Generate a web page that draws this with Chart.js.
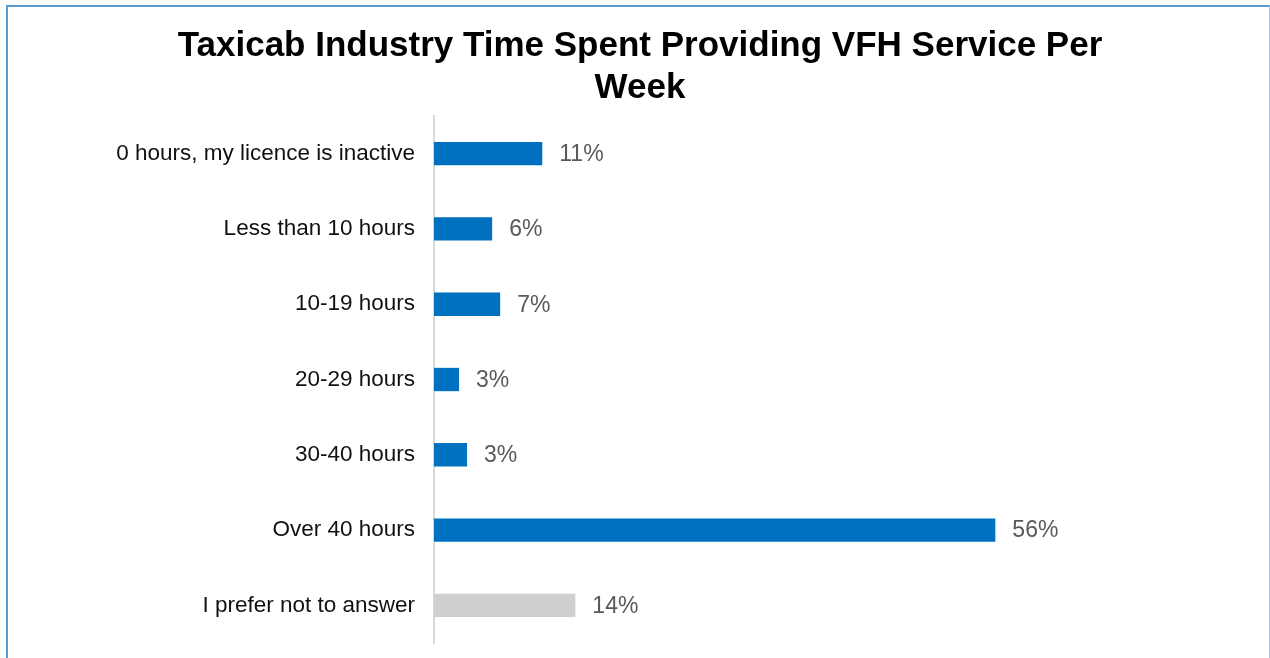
<!DOCTYPE html>
<html>
<head>
<meta charset="utf-8">
<script src="https://cdn.jsdelivr.net/npm/chart.js@4.4.0/dist/chart.umd.min.js"></script>
<style>
  body { margin: 0; background: #fff; overflow: hidden; }
  #wrap { position: absolute; left: 0; top: 0; width: 1270px; height: 658px; }
  #frame {
    position: absolute; left: 6px; top: 5px; width: 1261px; height: 700px;
    border-top: 2px solid #5B9BD5; border-left: 2px solid #5B9BD5;
    border-right: 1px solid #B4C7E7;
    pointer-events: none;
  }
</style>
</head>
<body>
<div id="wrap">
  <canvas id="chart" width="1270" height="658"></canvas>
  <div id="frame"></div>
</div>
<script>
// data
const categories = [
  "0 hours, my licence is inactive",
  "Less than 10 hours",
  "10-19 hours",
  "20-29 hours",
  "30-40 hours",
  "Over 40 hours",
  "I prefer not to answer"
]
const shares = [10.8, 5.8, 6.6, 2.5, 3.3, 56, 14.1]
const barColors = ["#0070C0", "#0070C0", "#0070C0", "#0070C0", "#0070C0", "#0070C0", "#D0CECE"]
const titleLines = ["Taxicab Industry Time Spent Providing VFH Service Per", "Week"]

// draws "11%" etc. right of every bar
const valueLabels = {
    id: "valueLabels",
    afterDatasetsDraw(chart) {
        const ctx = chart.ctx
        const meta = chart.getDatasetMeta(0)
        ctx.save()
        ctx.font = "23px 'Liberation Sans', Arial, sans-serif"
        ctx.fillStyle = "#595959"
        ctx.textAlign = "left"
        ctx.textBaseline = "middle"
        meta.data.forEach((bar, i) => {
            ctx.fillText(Math.round(shares[i]) + "%", bar.x + 17, bar.y + 1)
        })
        ctx.restore()
    }
}

const chart = new Chart(document.getElementById("chart"), {
    type: "bar",
    data: {
        labels: categories,
        datasets: [{
            data: shares,
            backgroundColor: barColors,
            borderWidth: 0,
            barPercentage: 0.31,
            categoryPercentage: 1,
        }]
    },
    options: {
        indexAxis: "y",
        responsive: false,
        animation: false,
        layout: { padding: { left: 10, right: 0, top: 0, bottom: 15 } },
        plugins: {
            legend: { display: false },
            tooltip: { enabled: false },
            title: {
                display: true,
                text: titleLines,
                color: "#000",
                font: { family: "'Liberation Sans', Arial, sans-serif", size: 35, weight: "bold", lineHeight: 1.2 },
                padding: { top: 25, bottom: 7 },
            }
        },
        scales: {
            x: {
                display: false,
                min: 0,
                max: 83.4,
            },
            y: {
                grid: { display: false, drawTicks: false },
                border: { display: true, color: "#D9D9D9", width: 2 },
                ticks: {
                    color: "#111",
                    padding: 19,
                    font: { family: "'Liberation Sans', Arial, sans-serif", size: 22.5 },
                },
                afterFit(scale) {
                    scale.width = 424
                    // no extra room for half labels, the bars are offset anyway
                    scale.paddingTop = 0
                    scale.paddingBottom = 0
                }
            }
        }
    },
    plugins: [valueLabels]
})
</script>
</body>
</html>
